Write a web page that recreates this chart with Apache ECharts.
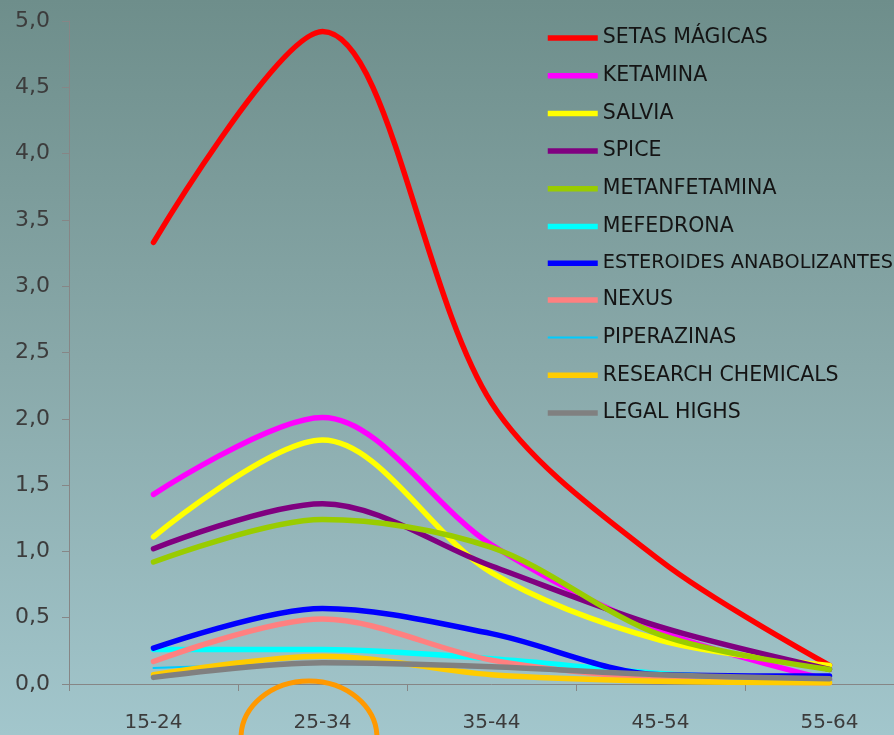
<!DOCTYPE html>
<html><head><meta charset="utf-8">
<script src="https://cdn.jsdelivr.net/npm/echarts@6/dist/echarts.min.js"></script>
<style>html,body{margin:0;padding:0;background:#8aaaab;overflow:hidden}#c{width:914px;height:735px}</style>
</head><body><div id="c"></div>
<script>
// ---- data ----
const categories = ['15-24', '25-34', '35-44', '45-54', '55-64'];
const yTicks = [0, 0.5, 1, 1.5, 2, 2.5, 3, 3.5, 4, 4.5, 5];
const setasMagicas = [3.33, 4.92, 2.12, 0.93, 0.14];
const ketamina = [1.43, 2.01, 1.05, 0.40, 0.03];
const salvia = [1.11, 1.84, 0.84, 0.33, 0.14];
const spice = [1.02, 1.36, 0.89, 0.43, 0.11];
const metanfetamina = [0.92, 1.24, 1.03, 0.37, 0.11];
const mefedrona = [0.26, 0.26, 0.19, 0.08, 0.02];
const esteroides = [0.27, 0.57, 0.38, 0.07, 0.06];
const nexus = [0.17, 0.49, 0.18, 0.04, 0.01];
const piperazinas = [0.12, 0.15, 0.12, 0.06, 0.02];
const researchChemicals = [0.07, 0.21, 0.07, 0.02, 0.01];
const legalHighs = [0.05, 0.16, 0.13, 0.07, 0.04];

const seriesNames = ['SETAS MÁGICAS', 'KETAMINA', 'SALVIA', 'SPICE', 'METANFETAMINA', 'MEFEDRONA',
  'ESTEROIDES ANABOLIZANTES', 'NEXUS', 'PIPERAZINAS', 'RESEARCH CHEMICALS', 'LEGAL HIGHS'];
const seriesData = [setasMagicas, ketamina, salvia, spice, metanfetamina, mefedrona,
  esteroides, nexus, piperazinas, researchChemicals, legalHighs];

// ---- styles ----
const colors = ['#FF0000', '#FF00FF', '#FFFF00', '#800080', '#99CC00', '#00FFFF',
  '#0000FF', '#FF8080', '#00CCFF', '#FFCC00', '#808080'];
const widths = [5.5, 5.5, 5.5, 5.5, 5.5, 5.5, 5.5, 5.5, 2, 5.5, 5.5];
const legendFontSizes = [20.5, 20.5, 20.5, 20.5, 20.5, 20.5, 19.3, 20.5, 20.5, 20.5, 20.5];
const FONT = 'DejaVu Sans';

const chart = echarts.init(document.getElementById('c'), null, {renderer: 'canvas'});
chart.setOption({
  animation: false,
  backgroundColor: new echarts.graphic.LinearGradient(0, 0, 0, 1, [
    {offset: 0, color: '#6e8e8b'},
    {offset: 0.5, color: '#89a9aa'},
    {offset: 1, color: '#a2c6cc'}
  ]),
  grid: {left: 69, top: 21, right: 0, bottom: 51},
  legend: {
    orient: 'vertical', left: 545, top: 27.5, padding: 0,
    itemWidth: 50, itemHeight: 19, itemGap: 16.7,
    itemStyle: {opacity: 0},
    lineStyle: {width: 5.5, cap: 'round'},
    textStyle: {fontFamily: FONT, fontSize: 20.5, color: '#141414'},
    data: seriesNames.map((n, i) => ({
      name: n,
      lineStyle: {width: widths[i], color: colors[i], cap: 'butt'},
      textStyle: {fontFamily: FONT, fontSize: legendFontSizes[i], color: '#141414'}
    }))
  },
  xAxis: {
    type: 'category', data: categories, boundaryGap: true,
    axisLine: {lineStyle: {color: '#868686', width: 1}},
    axisTick: {show: true, length: 7, lineStyle: {color: '#868686'}},
    axisLabel: {fontFamily: FONT, fontSize: 20, color: '#3c3c3c', margin: 29}
  },
  yAxis: {
    type: 'value', min: yTicks[0], max: yTicks[yTicks.length - 1], interval: 0.5,
    axisLine: {show: true, lineStyle: {color: '#868686', width: 1}},
    axisTick: {show: true, length: 7, lineStyle: {color: '#868686'}},
    splitLine: {show: false},
    axisLabel: {fontFamily: FONT, fontSize: 22, color: '#3c3c3c', margin: 19,
      formatter: v => v.toFixed(1).replace('.', ',')}
  },
  series: seriesNames.map((n, i) => ({
    name: n, type: 'line', data: seriesData[i], smooth: 0.32,
    showSymbol: false, symbol: 'none',
    color: colors[i],
    lineStyle: {color: colors[i], width: widths[i], cap: 'round', join: 'round'}
  })),
  graphic: [{
    type: 'ellipse', shape: {cx: 309, cy: 738, rx: 68, ry: 57},
    style: {fill: 'none', stroke: '#FF9900', lineWidth: 5}, z: 100
  }]
});
</script>
</body></html>
